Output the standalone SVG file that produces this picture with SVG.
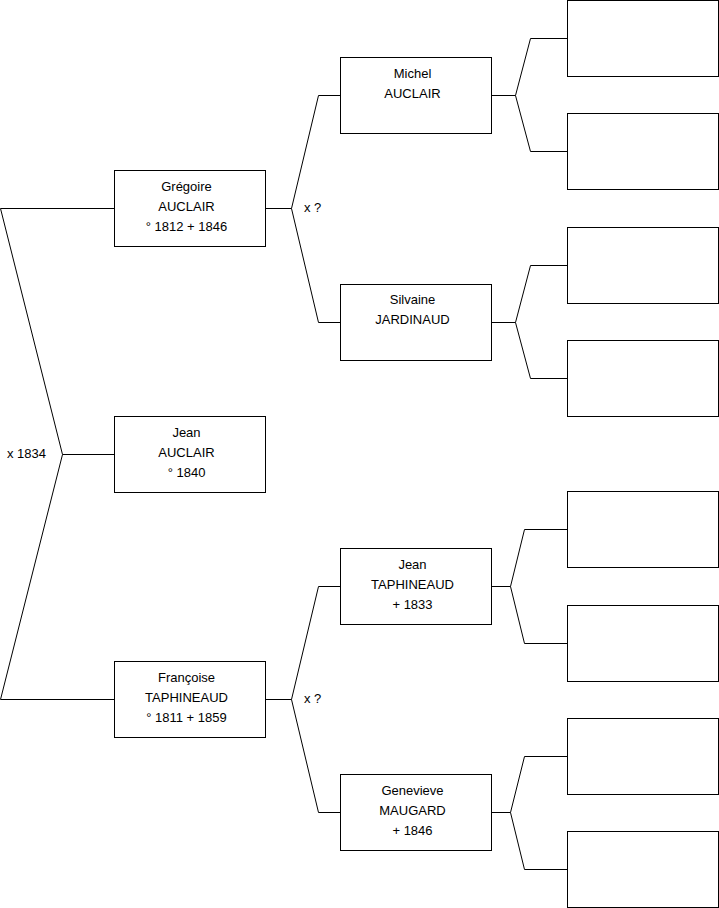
<svg xmlns="http://www.w3.org/2000/svg" width="719" height="908" viewBox="0 0 719 908">
<style>
.box{fill:#fff;stroke:#000;stroke-width:1}
.t{font-family:"Liberation Sans",Arial,sans-serif;font-size:13px;fill:#000;text-anchor:middle}
.l{font-family:"Liberation Sans",Arial,sans-serif;font-size:13px;fill:#000}
.c{fill:none;stroke:#000;stroke-width:1}
</style>
<rect width="719" height="908" fill="#fff"/>
<g id="connectors">
<path class="c" d="M114.5,208.5 H0.5 L62.5,454.5 L0.5,699.5 H114.5 M62.5,454.5 H114.5"/>
<path class="c" d="M265.5,208.5 H291.5 L318.5,95.5 H340.5 M291.5,208.5 L318.5,322.5 H340.5"/>
<path class="c" d="M265.5,699.5 H291.5 L318.5,586.5 H340.5 M291.5,699.5 L318.5,812.5 H340.5"/>
<path class="c" d="M491.5,95.5 H515.5 L530.5,38.5 H567.5 M515.5,95.5 L530.5,151.5 H567.5"/>
<path class="c" d="M491.5,322.5 H515.5 L530.5,265.5 H567.5 M515.5,322.5 L530.5,378.5 H567.5"/>
<path class="c" d="M491.5,586.5 H510.5 L524.5,529.5 H567.5 M510.5,586.5 L524.5,643.5 H567.5"/>
<path class="c" d="M491.5,812.5 H510.5 L524.5,756.5 H567.5 M510.5,812.5 L524.5,869.5 H567.5"/>
<text class="l" x="7" y="458">x 1834</text>
<text class="l" x="304" y="212">x ?</text>
<text class="l" x="304" y="703">x ?</text>
</g>
<g id="gregoire">
<rect class="box" x="114.5" y="170.5" width="151" height="76"/>
<text class="t" x="186.5" y="191">Grégoire</text>
<text class="t" x="186.5" y="211">AUCLAIR</text>
<text class="t" x="186.5" y="231">° 1812 + 1846</text>
</g>
<g id="jean-auclair">
<rect class="box" x="114.5" y="416.5" width="151" height="76"/>
<text class="t" x="186.5" y="437">Jean</text>
<text class="t" x="186.5" y="457">AUCLAIR</text>
<text class="t" x="186.5" y="477">° 1840</text>
</g>
<g id="francoise">
<rect class="box" x="114.5" y="661.5" width="151" height="76"/>
<text class="t" x="186.5" y="682">Françoise</text>
<text class="t" x="186.5" y="702">TAPHINEAUD</text>
<text class="t" x="186.5" y="722">° 1811 + 1859</text>
</g>
<g id="michel">
<rect class="box" x="340.5" y="57.5" width="151" height="76"/>
<text class="t" x="412.5" y="78">Michel</text>
<text class="t" x="412.5" y="98">AUCLAIR</text>
</g>
<g id="silvaine">
<rect class="box" x="340.5" y="284.5" width="151" height="76"/>
<text class="t" x="412.5" y="304">Silvaine</text>
<text class="t" x="412.5" y="324">JARDINAUD</text>
</g>
<g id="jean-taphineaud">
<rect class="box" x="340.5" y="548.5" width="151" height="76"/>
<text class="t" x="412.5" y="569">Jean</text>
<text class="t" x="412.5" y="589">TAPHINEAUD</text>
<text class="t" x="412.5" y="609">+ 1833</text>
</g>
<g id="genevieve">
<rect class="box" x="340.5" y="774.5" width="151" height="76"/>
<text class="t" x="412.5" y="795">Genevieve</text>
<text class="t" x="412.5" y="815">MAUGARD</text>
<text class="t" x="412.5" y="835">+ 1846</text>
</g>
<g id="g3-1"><rect class="box" x="567.5" y="0.5" width="151" height="76"/></g>
<g id="g3-2"><rect class="box" x="567.5" y="113.5" width="151" height="76"/></g>
<g id="g3-3"><rect class="box" x="567.5" y="227.5" width="151" height="76"/></g>
<g id="g3-4"><rect class="box" x="567.5" y="340.5" width="151" height="76"/></g>
<g id="g3-5"><rect class="box" x="567.5" y="491.5" width="151" height="76"/></g>
<g id="g3-6"><rect class="box" x="567.5" y="605.5" width="151" height="76"/></g>
<g id="g3-7"><rect class="box" x="567.5" y="718.5" width="151" height="76"/></g>
<g id="g3-8"><rect class="box" x="567.5" y="831.5" width="151" height="76"/></g>
</svg>
